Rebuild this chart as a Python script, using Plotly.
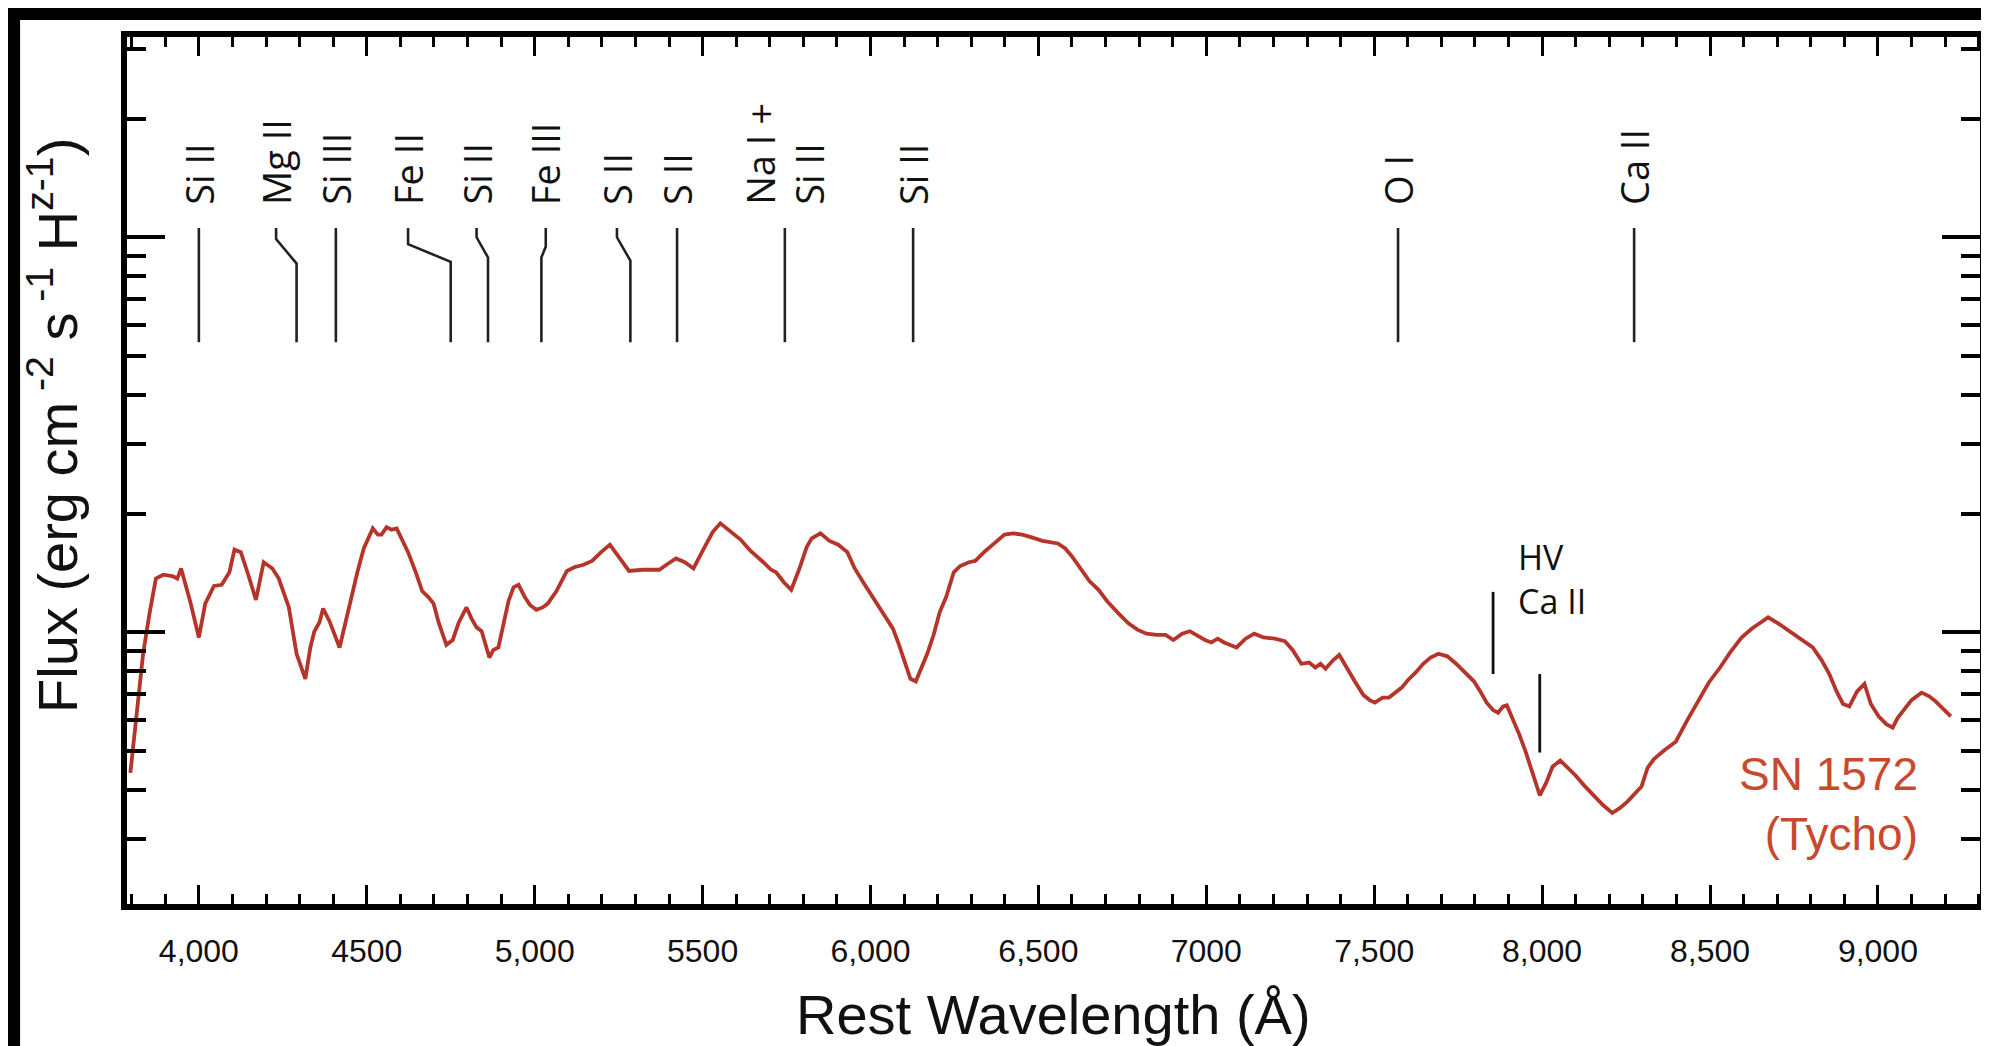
import plotly.graph_objects as go

# ---------------- data ----------------
wavelength = [3796, 3815, 3834, 3853, 3872, 3894, 3921, 3936, 3947, 3974, 3989, 4000, 4019, 4045, 4068, 4091,
              4106, 4125, 4147, 4170, 4193, 4219, 4238, 4253, 4268, 4291, 4306, 4317, 4332, 4344, 4359, 4370,
              4389, 4404, 4419, 4434, 4453, 4472, 4491, 4518, 4533, 4544, 4559, 4574, 4589, 4608, 4623, 4646,
              4665, 4684, 4699, 4714, 4737, 4756, 4774, 4797, 4812, 4827, 4842, 4865, 4877, 4892, 4907, 4922,
              4937, 4952, 4971, 4986, 5005, 5024, 5039, 5065, 5096, 5118, 5145, 5171, 5198, 5224, 5251, 5281,
              5322, 5371, 5398, 5421, 5447, 5473, 5500, 5530, 5553, 5583, 5613, 5643, 5666, 5681, 5704, 5719,
              5742, 5764, 5787, 5810, 5825, 5851, 5878, 5904, 5931, 5953, 5983, 6014, 6040, 6067, 6085, 6104,
              6119, 6135, 6150, 6169, 6188, 6206, 6225, 6248, 6267, 6293, 6312, 6342, 6373, 6399, 6425, 6452,
              6478, 6512, 6558, 6580, 6599, 6626, 6652, 6679, 6705, 6739, 6769, 6796, 6822, 6852, 6879, 6902,
              6928, 6951, 6977, 6996, 7015, 7034, 7053, 7072, 7090, 7117, 7143, 7170, 7204, 7234, 7257, 7283,
              7306, 7325, 7340, 7355, 7378, 7396, 7419, 7442, 7468, 7487, 7502, 7525, 7544, 7559, 7582, 7600,
              7623, 7646, 7668, 7691, 7718, 7744, 7770, 7797, 7816, 7835, 7854, 7869, 7884, 7895, 7914, 7933,
              7952, 7971, 7993, 8012, 8031, 8054, 8076, 8099, 8125, 8152, 8182, 8209, 8231, 8254, 8277, 8296,
              8314, 8333, 8364, 8398, 8432, 8466, 8496, 8530, 8560, 8594, 8624, 8651, 8673, 8704, 8738, 8772,
              8806, 8832, 8855, 8877, 8896, 8915, 8938, 8960, 8979, 9002, 9025, 9044, 9059, 9074, 9100, 9130,
              9153, 9172, 9195, 9217]
flux = [0.441, 0.636, 0.883, 1.116, 1.369, 1.400, 1.389, 1.369, 1.452, 1.200, 1.060, 0.971, 1.183, 1.311, 1.320, 1.420,
        1.620, 1.597, 1.400, 1.209, 1.506, 1.452, 1.369, 1.264, 1.157, 0.883, 0.803, 0.763, 0.916, 1.007, 1.060, 1.149,
        1.068, 0.986, 0.916, 1.037, 1.227, 1.420, 1.632, 1.834, 1.769, 1.769, 1.848, 1.821, 1.834, 1.705, 1.597, 1.420,
        1.273, 1.227, 1.183, 1.060, 0.930, 0.957, 1.060, 1.157, 1.084, 1.030, 1.007, 0.864, 0.903, 0.916, 1.060, 1.200,
        1.301, 1.320, 1.227, 1.174, 1.141, 1.157, 1.183, 1.273, 1.431, 1.462, 1.484, 1.517, 1.597, 1.668, 1.551, 1.431,
        1.441, 1.441, 1.495, 1.539, 1.506, 1.452, 1.608, 1.795, 1.889, 1.795, 1.718, 1.608, 1.551, 1.506, 1.441, 1.420,
        1.340, 1.282, 1.441, 1.644, 1.730, 1.782, 1.705, 1.668, 1.597, 1.452, 1.320, 1.200, 1.100, 1.022, 0.930, 0.833,
        0.763, 0.752, 0.803, 0.883, 0.986, 1.124, 1.227, 1.420, 1.473, 1.506, 1.517, 1.608, 1.693, 1.769, 1.782, 1.769,
        1.743, 1.705, 1.680, 1.632, 1.562, 1.452, 1.349, 1.282, 1.200, 1.116, 1.053, 1.015, 0.993, 0.986, 0.986, 0.957,
        0.993, 1.007, 0.978, 0.957, 0.943, 0.964, 0.943, 0.930, 0.916, 0.964, 0.993, 0.971, 0.964, 0.950, 0.903, 0.833,
        0.839, 0.815, 0.833, 0.809, 0.851, 0.877, 0.809, 0.752, 0.694, 0.674, 0.664, 0.684, 0.684, 0.699, 0.725, 0.757,
        0.791, 0.833, 0.864, 0.883, 0.870, 0.833, 0.791, 0.752, 0.709, 0.664, 0.636, 0.626, 0.650, 0.654, 0.599, 0.549,
        0.496, 0.441, 0.387, 0.416, 0.457, 0.474, 0.454, 0.435, 0.410, 0.387, 0.365, 0.349, 0.359, 0.373, 0.392, 0.407,
        0.454, 0.478, 0.503, 0.529, 0.599, 0.674, 0.746, 0.815, 0.890, 0.971, 1.022, 1.060, 1.092, 1.053, 1.007, 0.964,
        0.916, 0.851, 0.786, 0.709, 0.659, 0.650, 0.709, 0.741, 0.659, 0.613, 0.586, 0.574, 0.608, 0.631, 0.674, 0.704,
        0.689, 0.669, 0.640, 0.613]

# line identifications: label, wavelength at the label, wavelength where the marker meets the spectrum side
line_labels = ["Si II", "Mg II", "Si III", "Fe II", "Si II", "Fe III", "S II", "S II",
               "Na I +<br>Si II", "Si II", "O I", "Ca II"]
line_label_wl = [4000, 4230, 4408, 4623, 4827, 5033, 5245, 5424, 5745, 6127, 7571, 8274]
line_marker_wl = [4000, 4291, 4408, 4750, 4861, 5020, 5285, 5424, 5745, 6127, 7571, 8274]

hv_label = "HV<br>Ca II"
hv_marker_wl = [7854, 7993]

x_tick_vals = [4000, 4500, 5000, 5500, 6000, 6500, 7000, 7500, 8000, 8500, 9000]
x_tick_text = ["4,000", "4500", "5,000", "5500", "6,000", "6,500", "7000", "7,500", "8,000", "8,500", "9,000"]
y_major = [1, 10]
y_minor = [0.3, 0.4, 0.5, 0.6, 0.7, 0.8, 0.9, 2, 3, 4, 5, 6, 7, 8, 9, 20, 30]

object_name = "SN 1572<br>(Tycho)"

# ---------------- styling / geometry ----------------
W, H = 1989, 1046
ML, MR, MT, MB = 119, 17, 29, 150
RED = "#b5352a"
TEXT_RED = "#c9482e"
tick_font = "Liberation Sans, Arial, sans-serif"
label_font = "Open Sans, sans-serif"

# marker line vertical geometry (paper fractions): top, bend start, bend end, bottom
marker_top, marker_bottom = 0.7797, 0.648
bends = [None, (0.767, 0.7387), None, (0.761, 0.7407), (0.769, 0.7457), (0.758, 0.7457),
         (0.769, 0.742), None, None, None, None, None]
label_bottom = 0.804

fig = go.Figure()
fig.add_trace(go.Scatter(x=wavelength, y=flux, mode="lines",
                         line=dict(color=RED, width=3.8), hoverinfo="skip", showlegend=False))

shapes = []
# white page on black surround
shapes.append(dict(type="rect", xref="paper", yref="paper", x0=-0.0577, x1=1.012, y0=-0.175, y1=1.0196,
                   fillcolor="white", line=dict(width=0), layer="below"))

for i, (wl_top, wl_bot) in enumerate(zip(line_label_wl, line_marker_wl)):
    b = bends[i]
    if b is None:
        path = f"M {wl_top},{marker_top} L {wl_bot},{marker_bottom}"
    else:
        path = (f"M {wl_top},{marker_top} L {wl_top},{b[0]} L {wl_bot},{b[1]} "
                f"L {wl_bot},{marker_bottom}")
    shapes.append(dict(type="path", xref="x", yref="paper", path=path,
                       line=dict(color="#222222", width=2.6)))

hv_spans = [(0.360, 0.2653), (0.2653, 0.1747)]
for wl, (y0, y1) in zip(hv_marker_wl, hv_spans):
    shapes.append(dict(type="line", xref="x", yref="paper", x0=wl, x1=wl, y0=y0, y1=y1,
                       line=dict(color="#111111", width=2.8)))

annotations = []
for lab, wl in zip(line_labels, line_label_wl):
    annotations.append(dict(x=wl, y=label_bottom, xref="x", yref="paper", text=lab, textangle=-90,
                            showarrow=False, xanchor="center", yanchor="bottom", align="left",
                            font=dict(family=label_font, size=38, color="#111111")))

annotations.append(dict(x=7922, y=0.375, xref="x", yref="paper", text=hv_label, showarrow=False,
                        xanchor="left", yanchor="middle", align="left",
                        font=dict(family=label_font, size=34, color="#111111")))

annotations.append(dict(x=9124, y=0.1153, xref="x", yref="paper", text=object_name, showarrow=False,
                        xanchor="right", yanchor="middle", align="right",
                        font=dict(family="Liberation Sans, Arial, sans-serif", size=46, color=TEXT_RED)))

annotations.append(dict(x=0.5, y=-0.1269, xref="paper", yref="paper", text="Rest Wavelength (Å)",
                        showarrow=False, xanchor="center", yanchor="middle",
                        font=dict(family="Liberation Sans, Arial, sans-serif", size=56, color="#111111")))

annotations.append(dict(x=-0.0394, y=0.5525, xref="paper", yref="paper",
                        text="Flux (erg cm<sup> -2</sup> s<sup> -1</sup> H<sup>z-1</sup>)",
                        textangle=-90, showarrow=False, xanchor="center", yanchor="middle",
                        font=dict(family="Liberation Sans, Arial, sans-serif", size=56, color="#111111")))

fig.update_layout(
    width=W, height=H,
    margin=dict(l=ML, r=MR, t=MT, b=MB, pad=0),
    paper_bgcolor="black", plot_bgcolor="white",
    shapes=shapes, annotations=annotations, showlegend=False,
    xaxis=dict(range=[3786, 9304], tickmode="array", tickvals=x_tick_vals, ticktext=x_tick_text,
               ticks="inside", ticklen=19, tickwidth=3, tickcolor="black",
               minor=dict(dtick=100, tick0=4000, ticks="inside", ticklen=10, tickwidth=3, tickcolor="black"),
               showline=True, linewidth=6, linecolor="black", mirror="ticks",
               showgrid=False, zeroline=False, ticklabelstandoff=14,
               tickfont=dict(family=tick_font, size=32, color="#111111")),
    yaxis=dict(type="log", range=[-0.6876, 1.5076], tickmode="array", tickvals=y_major,
               ticks="inside", ticklen=38, tickwidth=4, tickcolor="black", showticklabels=False,
               minor=dict(tickmode="array", tickvals=y_minor, ticks="inside", ticklen=19, tickwidth=4,
                          tickcolor="black"),
               showline=True, linewidth=6, linecolor="black", mirror="ticks",
               showgrid=False, zeroline=False),
)

fig.write_html("out.html")
